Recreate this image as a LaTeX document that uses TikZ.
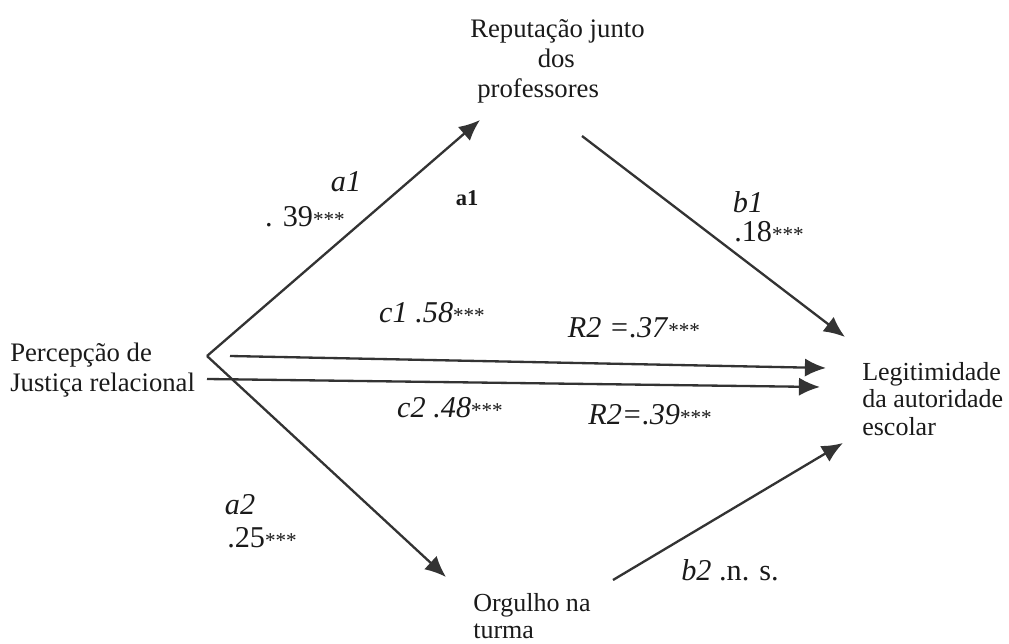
\documentclass[tikz,border=0pt]{standalone}
\usepackage{fontspec}
\setmainfont{Liberation Serif}
\usetikzlibrary{arrows.meta}
\definecolor{inkline}{HTML}{333333}
\definecolor{inktext}{HTML}{1A1A1A}
\newcommand{\stars}{{\fontsize{15}{15}\selectfont ***}}
\begin{document}
\begin{tikzpicture}[x=0.025cm,y=-0.025cm,
  lbl/.style={font=\fontsize{19}{21.3}\selectfont, align=center, inner sep=0pt, text=inktext},
  lblleft/.style={lbl, align=left, anchor=west},
  coef/.style={font=\fontsize{21.5}{24}\selectfont, inner sep=0pt, text=inktext},
  arr/.style={line width=1.65pt, draw=inkline, -{Latex[length=15pt,width=13pt]}}
]
\useasboundingbox (0,0) rectangle (1009,644);

% variables
\node[lblleft] (rep) at (470,61) {Reputação junto\\\hspace*{48pt}dos\\\hspace*{5pt}professores};
\node[lblleft] (perc) at (10,370) {Percepção de\\Justiça relacional};
\node[lblleft, font=\fontsize{18.5}{19.5}\selectfont] (leg) at (862,399) {Legitimidade\\da autoridade\\escolar};
\node[lblleft, font=\fontsize{18.5}{19.5}\selectfont] (org) at (473,616) {Orgulho na\\turma};

% arrow end points
\coordinate (v1) at (207,356);
\coordinate (a1t) at (480,120);
\coordinate (c1s) at (230,356);
\coordinate (c1t) at (826,368);
\coordinate (v2) at (207,379);
\coordinate (c2t) at (820,387);
\coordinate (a2t) at (446,577);
\coordinate (b1s) at (582,136);
\coordinate (b1t) at (845,337);
\coordinate (b2s) at (613,580);
\coordinate (b2t) at (843,443);

\draw[arr] (v1) -- (a1t);
\draw[arr] (v1) -- (a2t);
\draw[arr] (c1s) -- (c1t);
\draw[arr] (v2) -- (c2t);
\draw[arr] (b1s) -- (b1t);
\draw[arr] (b2s) -- (b2t);

% coefficients
\node[coef] (la1) at (346,182) {\textit{a1}};
\node[coef] (va1) at (305,217) {. 39\stars};
\node[coef, font=\fontsize{16}{16}\selectfont\bfseries] (la1b) at (467,198) {a1};
\node[coef] (lb1) at (748,202) {\textit{b1}};
\node[coef] (vb1) at (769,232) {.18\stars};
\node[coef] (lc1) at (432,313) {\textit{c1 .58}\stars};
\node[coef] (r1) at (634,328) {\textit{R2 =.37}\stars};
\node[coef] (lc2) at (450,408) {\textit{c2 .48}\stars};
\node[coef] (r2) at (650,415) {\textit{R2=.39}\stars};
\node[coef] (la2) at (240,505) {\textit{a2}};
\node[coef] (va2) at (262,538) {.25\stars};
\node[coef] (lb2) at (730,570) {\textit{b2} .n. s.};
\end{tikzpicture}
\end{document}
